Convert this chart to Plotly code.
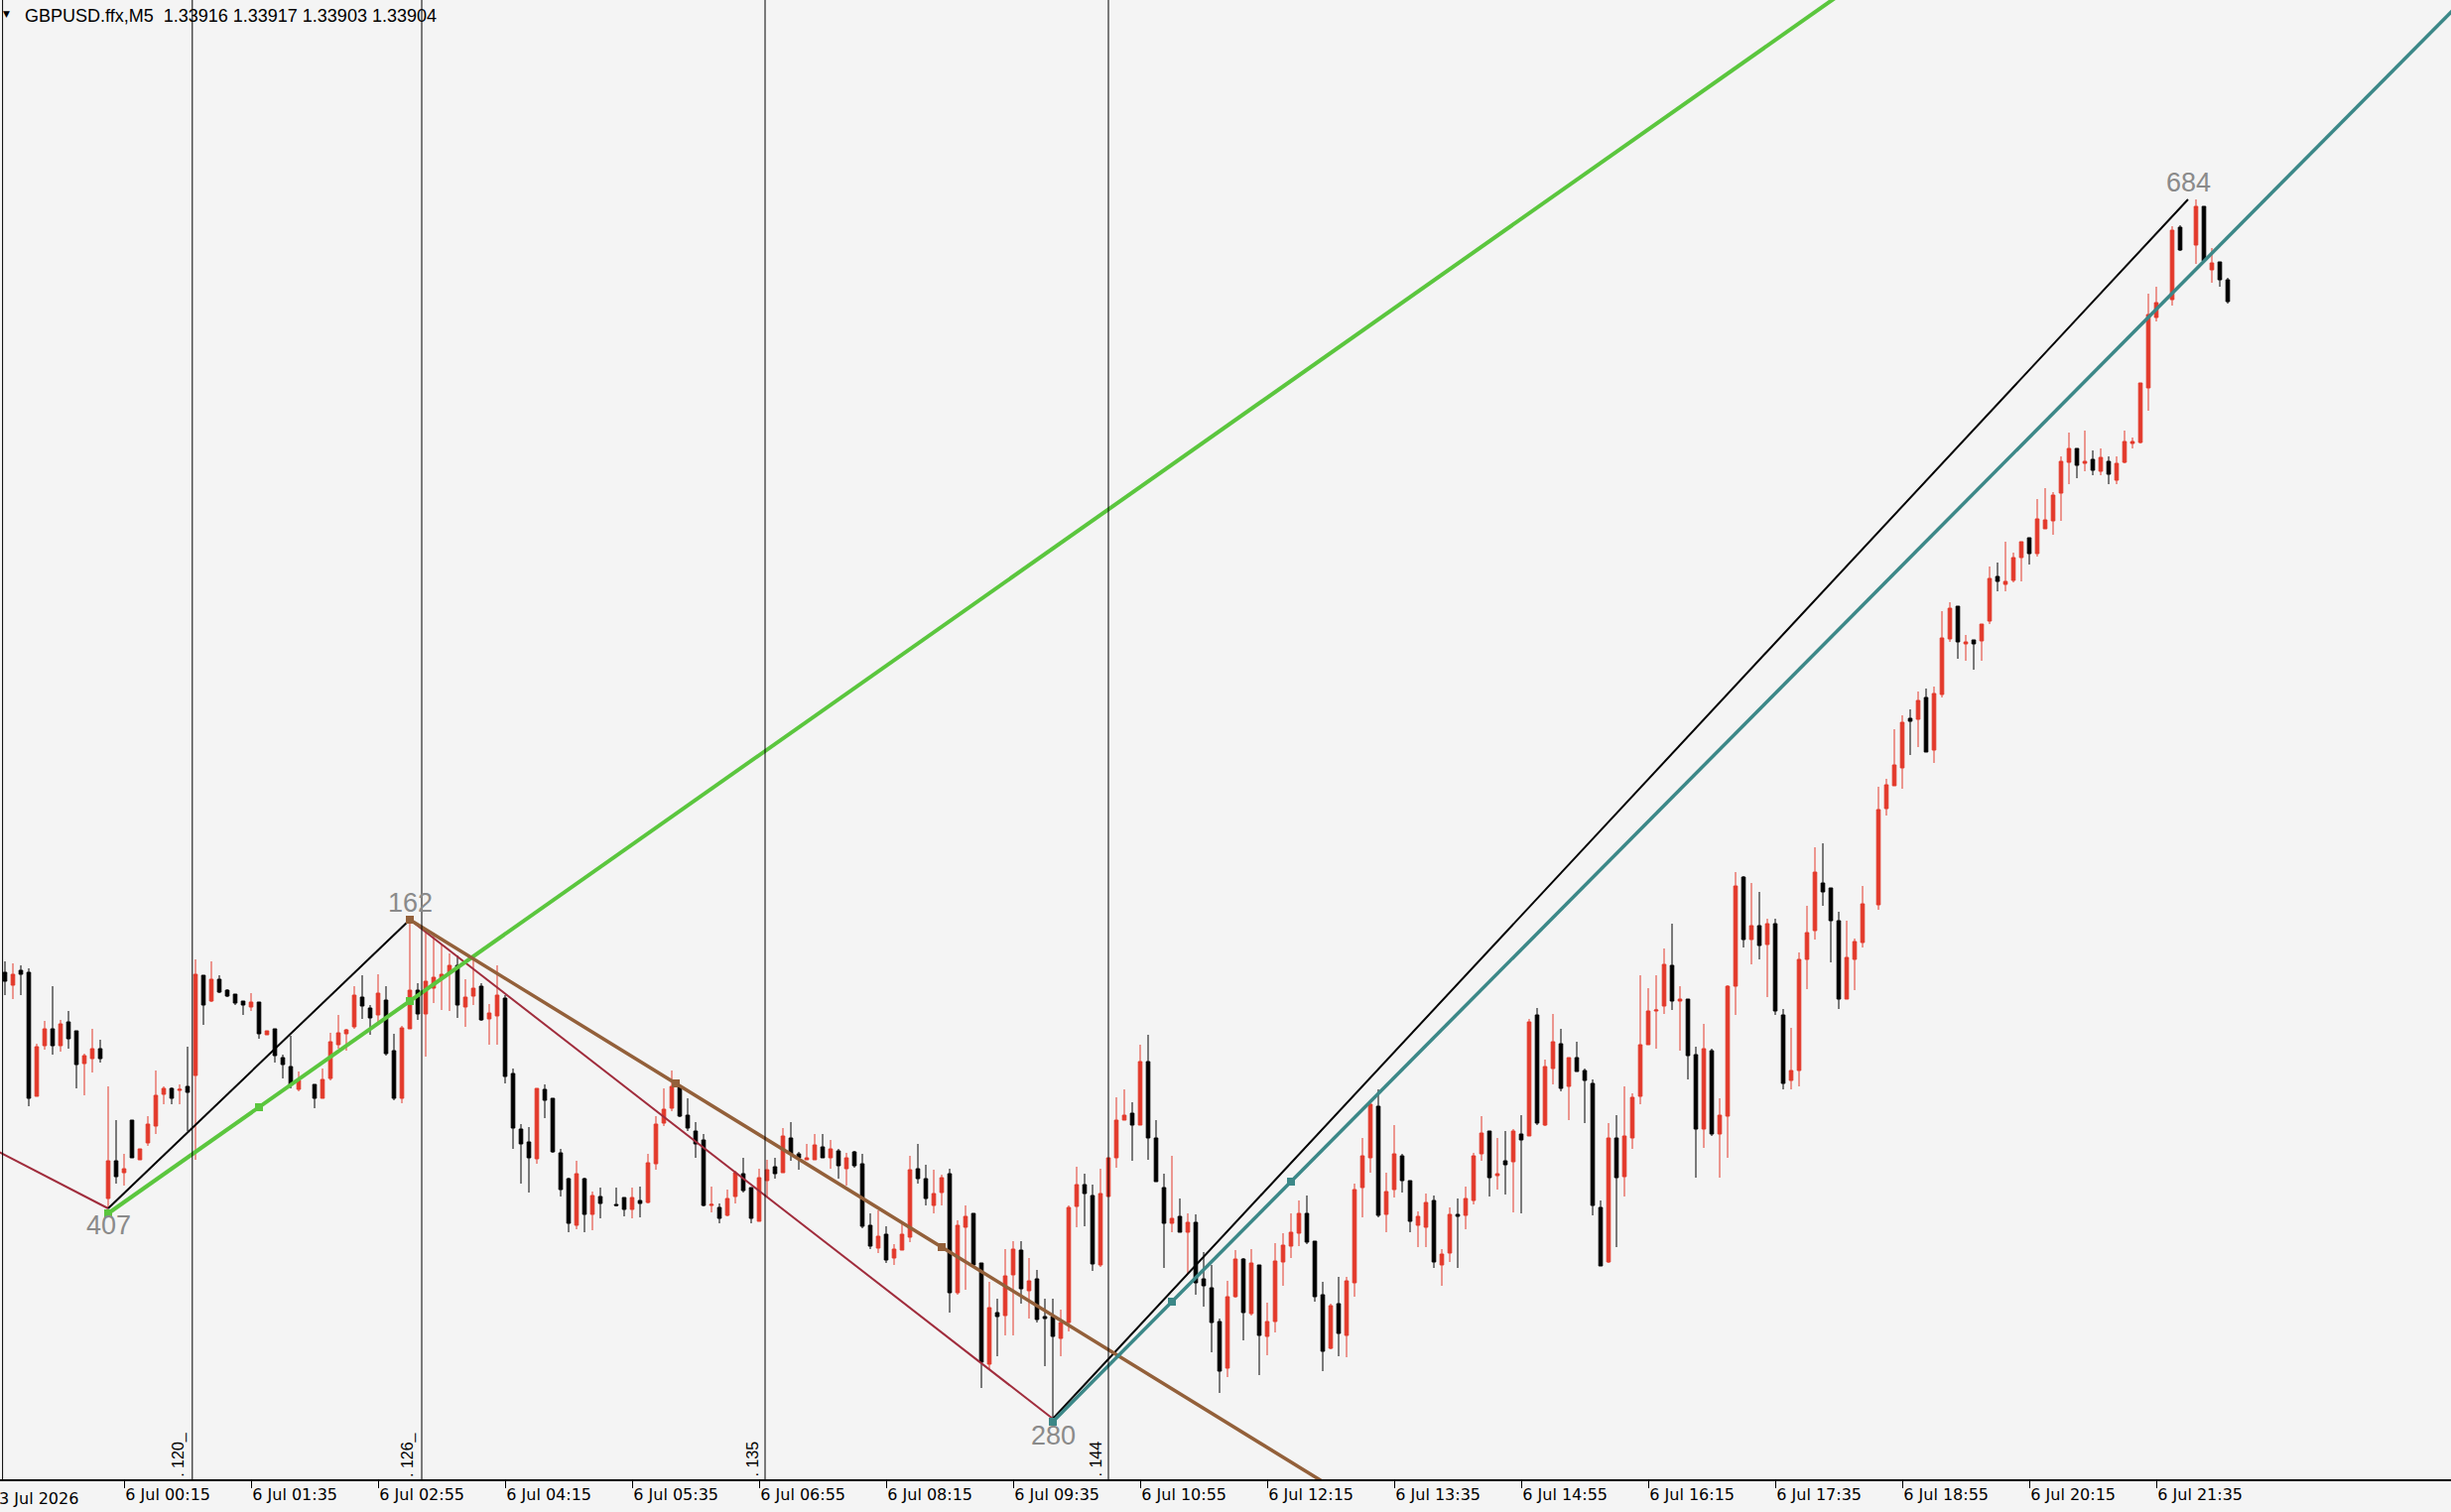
import plotly.graph_objects as go

# ---------------- data (GBPUSD.ffx, M5) ----------------
HEADER = "GBPUSD.ffx,M5\u00a0 1.33916 1.33917 1.33903 1.33904"

# one entry per bar, bar 0 = 3 Jul 23:00 ; None = bar not visible on the chart
open_ = [1.33220,1.33207,1.33222,1.33220,1.33095,1.33146,1.33163,1.33146,1.33170,1.33161,
 1.33128,1.33133,1.33143,1.32992,1.33030,1.33018,1.33071,1.33031,1.33048,1.33065,
 1.33097,1.33103,1.33101,1.33105,1.33116,1.33217,1.33191,1.33213,1.33202,1.33198,
 1.33191,1.33185,1.33190,1.33157,1.33163,1.33134,1.33125,1.33102,None,1.33107,
 1.33093,1.33113,1.33147,1.33158,1.33165,1.33195,1.33184,1.33177,1.33192,1.33141,
 1.33093,1.33163,1.33202,1.33178,1.33204,1.33214,1.33219,1.33227,1.33185,1.33196,
 1.33206,1.33173,1.33176,1.33194,1.33118,1.33062,1.33049,1.33032,1.33102,1.33093,
 1.33038,1.33012,1.32965,1.33012,1.32976,1.32994,None,1.32986,1.32993,1.32981,
 1.32990,1.32988,1.33027,1.33068,1.33083,1.33104,1.33076,1.33060,1.33051,1.32985,
 1.32983,1.32975,1.32994,1.33017,1.33003,1.32969,1.33010,1.33024,1.33018,1.33053,
 1.33037,1.33031,1.33031,1.33044,1.33033,1.33040,1.33022,1.33039,1.33027,1.32965,
 1.32942,1.32956,1.32932,1.32940,1.32953,1.33022,1.33012,1.32985,1.32998,1.33017,
 1.32897,1.32963,1.32977,1.32927,1.32825,1.32877,1.32874,1.32915,1.32940,1.32899,
 1.32911,1.32873,1.32873,1.32851,1.32867,1.32984,1.33006,1.32995,1.32925,1.32994,
 1.33033,1.33071,1.33078,1.33066,1.33130,1.33053,1.33003,1.32967,1.32974,1.32958,
 1.32968,1.32911,1.32902,1.32868,1.32821,1.32893,1.32931,1.32876,1.32925,1.32853,
 1.32868,1.32928,1.32944,1.32957,1.32977,1.32949,1.32895,1.32841,1.32886,1.32854,
 1.32907,1.33003,1.33033,1.33085,1.32976,1.33001,1.33035,1.33010,1.32965,1.32963,
 1.32990,1.32925,1.32937,1.32976,1.32975,1.32990,1.33037,1.33060,1.33015,1.33030,
 1.33029,1.33057,1.33055,1.33177,1.33066,1.33123,1.33148,1.33105,1.33134,1.33121,
 1.33108,1.32983,1.32928,1.33053,1.33014,1.33053,1.33095,1.33147,1.33181,1.33186,
 1.33227,1.33191,1.33193,1.33137,1.33062,1.33141,1.33057,1.33075,1.33206,1.33316,
 1.33253,1.33267,1.33248,1.33269,1.33177,1.33111,1.33121,1.33233,1.33262,1.33310,
 1.33305,1.33272,1.33193,1.33233,1.33250,None,1.33288,1.33385,1.33408,1.33426,
 1.33476,1.33475,1.33497,1.33444,1.33500,1.33556,1.33589,1.33551,1.33555,1.33554,
 1.33574,1.33619,1.33611,1.33615,1.33638,1.33658,1.33642,1.33667,1.33675,1.33703,
 1.33734,1.33748,1.33733,1.33737,1.33725,1.33735,1.33716,1.33734,1.33753,1.33754,
 1.33809,1.33880,None,1.33898,1.33971,None,1.33953,1.33992,1.33928,1.33936,
 1.33918]
high_ = [1.33231,1.33229,1.33227,1.33224,1.33148,1.33171,1.33206,1.33172,1.33181,1.33161,
 1.33138,1.33163,1.33152,1.33105,1.33071,1.33037,1.33071,1.33042,1.33075,1.33121,
 1.33105,1.33104,1.33107,1.33145,1.33233,1.33217,1.33231,1.33217,1.33203,1.33198,
 1.33191,1.33199,1.33190,1.33161,1.33163,1.33137,1.33156,1.33120,None,1.33107,
 1.33123,1.33159,1.33177,1.33163,1.33206,1.33217,1.33187,1.33218,1.33206,1.33158,
 1.33166,1.33273,1.33209,1.33262,1.33260,1.33248,1.33239,1.33237,1.33213,1.33232,
 1.33209,1.33188,1.33227,1.33197,1.33123,1.33067,1.33064,1.33103,1.33107,1.33093,
 1.33042,1.33013,1.33030,1.33013,1.32999,1.33003,None,1.33003,1.32993,1.33003,
 1.33004,1.33037,1.33075,1.33103,1.33121,1.33107,1.33093,1.33069,1.33057,1.33004,
 1.32987,1.33001,1.33020,1.33033,1.33003,1.33022,1.33031,1.33033,1.33063,1.33069,
 1.33039,1.33047,1.33057,1.33057,1.33051,1.33042,1.33038,1.33040,1.33037,1.32977,
 1.32980,1.32964,1.32946,1.32967,1.33035,1.33047,1.33026,1.33021,1.33016,1.33022,
 1.32970,1.32985,1.32977,1.32927,1.32908,1.32891,1.32941,1.32949,1.32949,1.32932,
 1.32920,1.32891,1.32891,1.32880,1.32985,1.33024,1.33017,1.33006,1.33022,1.33033,
 1.33094,1.33102,1.33089,1.33147,1.33157,1.33071,1.33017,1.33035,1.32992,1.32977,
 1.32976,1.32938,1.32925,1.32871,1.32909,1.32940,1.32932,1.32941,1.32925,1.32887,
 1.32947,1.32957,1.32977,1.32990,1.32995,1.32949,1.32908,1.32886,1.32913,1.32913,
 1.33007,1.33053,1.33088,1.33102,1.33018,1.33066,1.33037,1.33010,1.32979,1.32997,
 1.32995,1.32941,1.32983,1.32992,1.33004,1.33038,1.33075,1.33060,1.33053,1.33060,
 1.33062,1.33076,1.33173,1.33184,1.33132,1.33178,1.33163,1.33134,1.33150,1.33123,
 1.33112,1.32990,1.33068,1.33076,1.33105,1.33098,1.33217,1.33204,1.33217,1.33244,
 1.33269,1.33206,1.33193,1.33145,1.33168,1.33143,1.33093,1.33207,1.33321,1.33317,
 1.33310,1.33301,1.33274,1.33274,1.33183,1.33164,1.33240,1.33287,1.33346,1.33350,
 1.33305,1.33281,1.33272,1.33254,1.33307,None,1.33407,1.33415,1.33465,1.33479,
 1.33485,1.33503,1.33506,1.33508,1.33584,1.33593,1.33589,1.33560,1.33555,1.33571,
 1.33629,1.33633,1.33654,1.33643,1.33654,1.33658,1.33697,1.33708,1.33704,1.33740,
 1.33764,1.33748,1.33766,1.33746,1.33748,1.33740,1.33740,1.33766,1.33759,1.33814,
 1.33904,1.33911,None,1.33972,1.33973,None,1.33999,1.33992,1.33950,1.33936,
 1.33920]
low_ = [1.33197,1.33193,1.33197,1.33085,1.33095,1.33142,1.33137,1.33140,1.33143,1.33103,
 1.33096,1.33119,1.33129,1.32982,1.33007,1.33005,1.33033,1.33031,1.33045,1.33057,
 1.33087,1.33087,1.33087,1.33060,1.33031,1.33167,1.33190,1.33199,1.33195,1.33187,
 1.33177,1.33181,1.33153,1.33157,1.33129,1.33113,1.33103,1.33100,None,1.33083,
 1.33093,1.33111,1.33143,1.33141,1.33163,1.33173,1.33157,1.33167,1.33136,1.33091,
 1.33088,1.33163,1.33172,1.33135,1.33189,1.33182,1.33181,1.33174,1.33165,1.33187,
 1.33171,1.33147,1.33147,1.33108,1.33042,1.33007,1.32998,1.33027,1.33073,1.33038,
 1.32994,1.32958,1.32961,1.32958,1.32960,1.32972,None,1.32984,1.32974,1.32972,
 1.32973,1.32987,1.33021,1.33065,1.33080,1.33074,1.33060,1.33033,1.32984,1.32978,
 1.32967,1.32974,1.32987,1.32998,1.32967,1.32969,1.32994,1.33012,1.33018,1.33030,
 1.33021,1.33031,1.33031,1.33033,1.33022,1.33012,1.33005,1.33023,1.32962,1.32941,
 1.32937,1.32927,1.32925,1.32940,1.32948,1.33007,1.32985,1.32977,1.32985,1.32877,
 1.32895,1.32900,1.32923,1.32801,1.32820,1.32833,1.32854,1.32854,1.32886,1.32871,
 1.32867,1.32823,1.32770,1.32833,1.32858,1.32963,1.32964,1.32919,1.32923,1.32994,
 1.33023,1.33071,1.33030,1.33066,1.33031,1.33009,1.32922,1.32958,1.32958,1.32917,
 1.32895,1.32883,1.32837,1.32796,1.32812,1.32892,1.32849,1.32874,1.32814,1.32834,
 1.32857,1.32904,1.32932,1.32944,1.32946,1.32888,1.32818,1.32840,1.32833,1.32832,
 1.32893,1.32973,1.33018,1.32973,1.32958,1.32993,1.32998,1.32958,1.32943,1.32943,
 1.32922,1.32904,1.32928,1.32922,1.32961,1.32986,1.33030,1.32994,1.33001,1.32996,
 1.32978,1.32977,1.33055,1.33066,1.33065,1.33107,1.33100,1.33071,1.33120,1.33068,
 1.32975,1.32924,1.32927,1.32943,1.32994,1.33042,1.33087,1.33147,1.33143,1.33178,
 1.33182,1.33141,1.33112,1.33013,1.33043,1.33055,1.33013,1.33033,1.33177,1.33245,
 1.33228,1.33233,1.33195,1.33177,1.33102,1.33102,1.33105,1.33203,1.33253,1.33287,
 1.33230,1.33183,1.33193,1.33202,1.33245,None,1.33283,1.33378,1.33408,1.33405,
 1.33439,1.33447,1.33442,1.33431,1.33497,1.33553,1.33536,1.33534,1.33525,1.33534,
 1.33571,1.33604,1.33604,1.33613,1.33614,1.33631,1.33639,1.33667,1.33661,1.33675,
 1.33712,1.33718,1.33725,1.33721,1.33721,1.33712,1.33712,1.33733,1.33748,1.33753,
 1.33786,1.33876,None,1.33892,1.33947,None,1.33934,1.33936,1.33915,1.33911,
 1.33894]
close_ = [1.33211,1.33218,1.33218,1.33093,1.33145,1.33163,1.33146,1.33168,1.33153,1.33127,
 1.33136,1.33143,1.33133,1.33030,1.33014,1.33022,1.33033,1.33042,1.33067,1.33096,
 1.33103,1.33093,1.33102,1.33099,1.33218,1.33187,1.33213,1.33200,1.33196,1.33189,
 1.33187,1.33190,1.33158,1.33161,1.33136,1.33127,1.33107,1.33111,None,1.33093,
 1.33112,1.33150,1.33159,1.33162,1.33197,1.33186,1.33174,1.33199,1.33138,1.33093,
 1.33164,1.33202,1.33178,1.33211,1.33215,1.33218,1.33227,1.33187,1.33195,1.33204,
 1.33172,1.33179,1.33197,1.33115,1.33063,1.33047,1.33033,1.33103,1.33091,1.33039,
 1.33001,1.32967,1.33017,1.32976,1.32995,1.32987,None,1.32985,1.32981,1.32993,
 1.32987,1.33028,1.33067,1.33082,1.33105,1.33075,1.33063,1.33047,1.32985,1.32986,
 1.32972,1.32992,1.33018,1.33000,1.32972,1.33013,1.33021,1.33017,1.33055,1.33037,
 1.33033,1.33033,1.33046,1.33033,1.33042,1.33025,1.33033,1.33025,1.32964,1.32944,
 1.32954,1.32930,1.32941,1.32956,1.33021,1.33012,1.32992,1.32997,1.33013,1.32897,
 1.32965,1.32974,1.32925,1.32827,1.32882,1.32873,1.32914,1.32941,1.32901,1.32909,
 1.32870,1.32871,1.32853,1.32867,1.32983,1.33006,1.32997,1.32926,1.32997,1.33033,
 1.33071,1.33076,1.33066,1.33130,1.33053,1.33009,1.32967,1.32972,1.32958,1.32968,
 1.32907,1.32904,1.32867,1.32818,1.32893,1.32931,1.32877,1.32927,1.32854,1.32868,
 1.32929,1.32945,1.32958,1.32977,1.32948,1.32893,1.32838,1.32884,1.32856,1.32909,
 1.33001,1.33035,1.33087,1.32975,1.32999,1.33037,1.33010,1.32969,1.32974,1.32988,
 1.32928,1.32936,1.32976,1.32974,1.32992,1.33035,1.33058,1.33013,1.33017,1.33026,
 1.33060,1.33051,1.33170,1.33068,1.33125,1.33150,1.33103,1.33134,1.33120,1.33111,
 1.32985,1.32924,1.33053,1.33013,1.33055,1.33094,1.33147,1.33181,1.33182,1.33228,
 1.33191,1.33193,1.33136,1.33062,1.33143,1.33057,1.33076,1.33206,1.33307,1.33253,
 1.33267,1.33247,1.33269,1.33181,1.33108,1.33121,1.33233,1.33260,1.33321,1.33301,
 1.33272,1.33193,1.33235,1.33251,1.33289,None,1.33384,1.33409,1.33429,1.33472,
 1.33473,1.33494,1.33442,1.33501,1.33557,1.33587,1.33553,1.33553,1.33551,1.33571,
 1.33617,1.33614,1.33614,1.33638,1.33654,1.33642,1.33677,1.33676,1.33701,1.33735,
 1.33748,1.33731,1.33735,1.33726,1.33739,1.33722,1.33733,1.33755,1.33755,1.33814,
 1.33883,1.33895,None,1.33968,1.33948,None,1.33992,1.33937,1.33935,1.33918,
 1.33896]

# time axis labels (every 16 bars)
tick_bars = [15, 31, 47, 63, 79, 95, 111, 127, 143, 159, 175, 191, 207, 223, 239, 255, 271]
tick_labels = ["6 Jul 00:15", "6 Jul 01:35", "6 Jul 02:55", "6 Jul 04:15", "6 Jul 05:35",
               "6 Jul 06:55", "6 Jul 08:15", "6 Jul 09:35", "6 Jul 10:55", "6 Jul 12:15",
               "6 Jul 13:35", "6 Jul 14:55", "6 Jul 16:15", "6 Jul 17:35", "6 Jul 18:55",
               "6 Jul 20:15", "6 Jul 21:35"]
first_label_bar = -1
first_label_text = "3 Jul 2026"

# vertical line objects
vline_bars = [-0.3, 23.6, 52.5, 95.75, 139.0]
vline_texts = ["", ". 120_", ". 126_", ". 135", ". 144"]

# zigzag turning points
zz_bars = [-10, 13, 51, 132, 275]
zz_prices = [1.33077, 1.32982, 1.33273, 1.32770, 1.33999]
zz_texts = ["", "407", "162", "280", "684"]

# trend rays (two anchor points each)
green_bars = [13, 51]
green_prices = [1.32977, 1.33191]
brown_bars = [51, 118]
brown_prices = [1.33273, 1.32943]
teal_bars = [132, 162]
teal_prices = [1.32767, 1.33009]

# ---------------- styling ----------------
BG = "#F4F4F4"
RED = "#E3392B"
X_RANGE = [-0.625, 308.125]
Y_RANGE = [1.32709, 1.34200]
W, H = 2470, 1524
B_MARGIN = 33

fig = go.Figure()

idx = [i for i in range(len(open_)) if open_[i] is not None]
fig.add_trace(go.Candlestick(
    x=idx,
    open=[open_[i] for i in idx], high=[high_[i] for i in idx],
    low=[low_[i] for i in idx], close=[close_[i] for i in idx],
    increasing=dict(line=dict(color=RED, width=1), fillcolor=RED),
    decreasing=dict(line=dict(color="#000000", width=1), fillcolor="#000000"),
    whiskerwidth=0, hoverinfo="skip", showlegend=False,
))

# zigzag: down legs maroon, up legs black
for a in range(len(zz_bars) - 1):
    col = "#A02C3C" if zz_prices[a + 1] < zz_prices[a] else "#000000"
    fig.add_trace(go.Scatter(x=[zz_bars[a], zz_bars[a + 1]], y=[zz_prices[a], zz_prices[a + 1]],
                             mode="lines", line=dict(color=col, width=2),
                             hoverinfo="skip", showlegend=False))


def ray(bars, prices, x_end):
    slope = (prices[1] - prices[0]) / (bars[1] - bars[0])
    return [bars[0], x_end], [prices[0], prices[0] + slope * (x_end - bars[0])]


for bars, prices, col, w in [(green_bars, green_prices, "#5BC63E", 4),
                             (brown_bars, brown_prices, "#93603A", 3.5),
                             (teal_bars, teal_prices, "#3C8888", 3.5)]:
    rx, ry = ray(bars, prices, X_RANGE[1] + 20)
    fig.add_trace(go.Scatter(x=rx, y=ry, mode="lines", line=dict(color=col, width=w),
                             hoverinfo="skip", showlegend=False))
    mx = [bars[0], (bars[0] + bars[1]) / 2, bars[1]]
    my = [prices[0], (prices[0] + prices[1]) / 2, prices[1]]
    fig.add_trace(go.Scatter(x=mx, y=my, mode="markers",
                             marker=dict(symbol="square", size=8, color=col),
                             hoverinfo="skip", showlegend=False))

shapes = []
annotations = []
for b, t in zip(vline_bars, vline_texts):
    shapes.append(dict(type="line", xref="x", yref="paper", x0=b, x1=b, y0=0, y1=1,
                       line=dict(color="#000000", width=1), layer="above"))
    if t:
        annotations.append(dict(x=b, y=0, xref="x", yref="paper", text=t, showarrow=False,
                                textangle=-90, xanchor="right", yanchor="bottom", xshift=-3,
                                font=dict(family="Liberation Sans", size=16, color="#000000")))

for b, p, t, i in zip(zz_bars, zz_prices, zz_texts, range(len(zz_bars))):
    if not t:
        continue
    is_low = (i > 0 and p < zz_prices[i - 1]) or (i == 0)
    annotations.append(dict(x=b, y=p, xref="x", yref="y", text=t, showarrow=False,
                            xanchor="center", yanchor="middle", yshift=-17 if is_low else 17,
                            font=dict(family="Liberation Sans", size=27, color="#8A8A8A")))

annotations.append(dict(x=0, y=1, xref="paper", yref="paper", text=HEADER, showarrow=False,
                        xanchor="left", yanchor="top", xshift=23, yshift=-4,
                        font=dict(family="Liberation Sans", size=18, color="#000000")))
annotations.append(dict(x=0, y=1, xref="paper", yref="paper", text="\u25BC", showarrow=False,
                        xanchor="left", yanchor="middle", xshift=1, yshift=-14,
                        font=dict(family="DejaVu Sans", size=9, color="#000000")))
first_frac = (first_label_bar - X_RANGE[0]) / (X_RANGE[1] - X_RANGE[0])
annotations.append(dict(x=first_frac, y=0, xref="paper", yref="paper", text=first_label_text,
                        showarrow=False, xanchor="left", yanchor="top", yshift=-8,
                        font=dict(family="DejaVu Sans", size=16, color="#000000")))

fig.update_layout(
    width=W, height=H,
    margin=dict(l=0, r=0, t=0, b=B_MARGIN, pad=0),
    paper_bgcolor=BG, plot_bgcolor=BG,
    boxgap=0.55, boxgroupgap=0,
    shapes=shapes, annotations=annotations,
    xaxis=dict(range=X_RANGE, showgrid=False, zeroline=False, showline=True,
               linecolor="#000000", linewidth=1.5, ticks="outside", ticklen=7,
               tickcolor="#000000", tickwidth=1, tickvals=tick_bars, ticktext=tick_labels,
               ticklabelposition="outside right",
               tickfont=dict(family="DejaVu Sans", size=16, color="#000000"),
               rangeslider=dict(visible=False), fixedrange=True),
    yaxis=dict(range=Y_RANGE, showgrid=False, zeroline=False, showline=False,
               showticklabels=False, ticks="", fixedrange=True),
)

fig.write_html("out.html", config={"displayModeBar": False},
               post_script="document.body.style.margin='0';document.body.style.overflow='hidden';")
